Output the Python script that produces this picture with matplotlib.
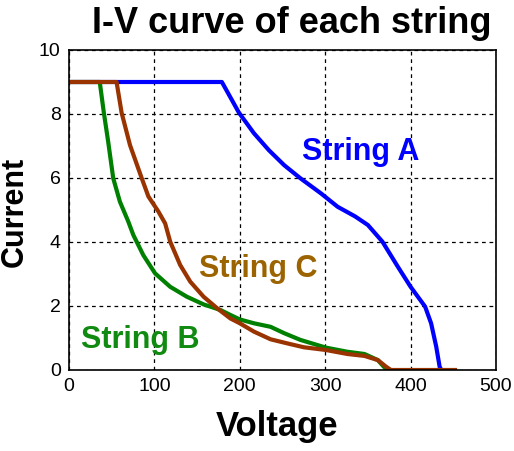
import matplotlib.pyplot as plt

# I-V points for each string (voltage in V, current in A)
v_a = [0, 179, 199, 216.5, 234, 252, 271, 295, 314.6, 335, 350, 367, 385, 400, 417, 424, 430, 434, 436]
i_a = [9.0, 9.0, 8.04, 7.4, 6.87, 6.4, 5.99, 5.52, 5.1, 4.8, 4.53, 4.01, 3.23, 2.6, 1.98, 1.46, 0.73, 0.1, 0.0]

v_b = [0, 36, 40.8, 45.9, 51.8, 59.6, 69.4, 75.3, 87, 100.8, 118.5, 138, 157.6, 177.3,
       189, 200, 216.5, 236, 252, 271, 300.8, 326, 346, 361.6, 371.4, 373]
i_b = [9.0, 9.0, 8.04, 7.13, 5.99, 5.26, 4.64, 4.22, 3.59, 3.02, 2.6, 2.29, 2.05, 1.875,
       1.72, 1.58, 1.46, 1.35, 1.15, 0.94, 0.70, 0.57, 0.5, 0.31, 0.02, 0.0]

v_c = [0, 55.7, 61.6, 71.4, 85.2, 93, 104.7, 112.6, 118.5, 130.2, 142, 157.6, 173.4, 189,
       200, 216.5, 236, 255.8, 275, 300.8, 326, 346, 361.6, 371.4, 377, 452]
i_c = [9.0, 9.0, 8.04, 7.03, 5.99, 5.42, 4.95, 4.58, 4.01, 3.28, 2.76, 2.29, 1.93, 1.61,
       1.46, 1.2, 0.96, 0.83, 0.71, 0.625, 0.5, 0.44, 0.31, 0.1, 0.0, 0.0]

x_ticks = [0, 100, 200, 300, 400, 500]
y_ticks = [0, 2, 4, 6, 8, 10]

plt.rcParams['font.family'] = ['Liberation Sans', 'DejaVu Sans']

fig = plt.figure(figsize=(5.14, 4.51), dpi=100)
ax = fig.add_axes([69 / 514, 81 / 451, 427 / 514, 320 / 451])

ax.plot(v_a, i_a, color='#0000ff', lw=3.0, solid_joinstyle='round')
ax.plot(v_b, i_b, color='#008000', lw=3.0, solid_joinstyle='round')
ax.plot(v_c, i_c, color='#993300', lw=3.0, solid_joinstyle='round')

ax.set_xlim(0, 500)
ax.set_ylim(0, 10)
ax.set_xticks(x_ticks)
ax.set_yticks(y_ticks)
ax.tick_params(length=0, labelsize=14, pad=6)
ax.grid(True, color='black', linestyle=(0, (3, 3)), linewidth=0.9)
for s in ax.spines.values():
    s.set_linewidth(1.2)

ax.text(341, 6.56, 'String A', color='#0000ff', fontsize=22, fontweight='bold',
        ha='center', va='baseline')
ax.text(222, 2.92, 'String C', color='#9c6400', fontsize=22, fontweight='bold',
        ha='center', va='baseline')
ax.text(83, 0.69, 'String B', color='#108a10', fontsize=22, fontweight='bold',
        ha='center', va='baseline')

fig.text(292 / 514, 1 - 33 / 451, 'I-V curve of each string', fontsize=26,
         fontweight='bold', ha='center', va='baseline')
fig.text(277 / 514, 1 - 436 / 451, 'Voltage', fontsize=25, fontweight='bold',
         ha='center', va='baseline')
fig.text(15 / 514, 1 - 211.5 / 451, 'Current', fontsize=22, fontweight='bold',
         ha='center', va='center', rotation=90)

fig.savefig('out.png', dpi=100)
